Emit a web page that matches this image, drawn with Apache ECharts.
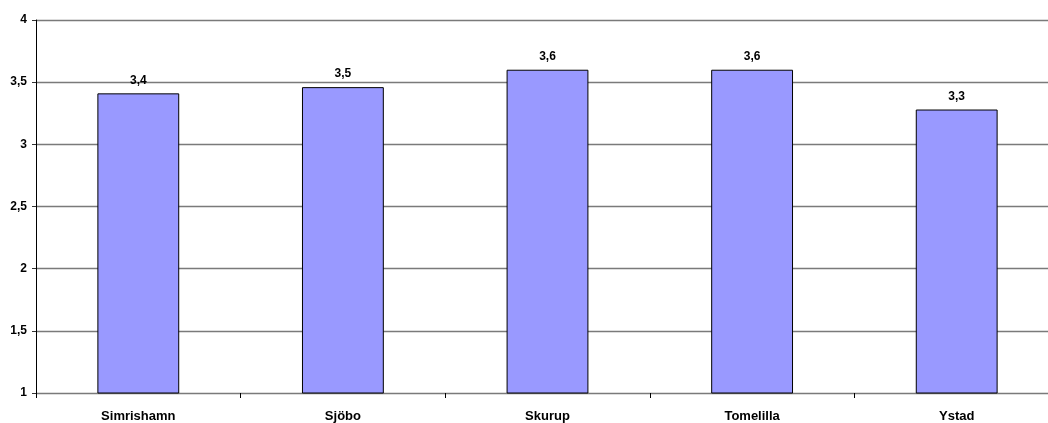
<!DOCTYPE html>
<html>
<head>
<meta charset="utf-8">
<script src="https://cdn.jsdelivr.net/npm/echarts@6/dist/echarts.min.js"></script>
<style>
  html, body { margin: 0; padding: 0; background: #fff; overflow: hidden; width: 1048px; height: 423px; }
  /* the plot area continues a little past the right edge of the window */
  #chart { width: 1059px; height: 423px; }
</style>
</head>
<body>
<div id="chart"></div>
<script>
// Municipalities and their average scores
const categories = ['Simrishamn', 'Sjöbo', 'Skurup', 'Tomelilla', 'Ystad'];
const values = [3.41, 3.46, 3.6, 3.6, 3.28];

// Value axis range
const yMin = 1;
const yMax = 4;
const yStep = 0.5;

const fmt = v => String(v).replace('.', ',');

const chart = echarts.init(document.getElementById('chart'), null, { renderer: 'canvas' });
chart.setOption({
  animation: false,
  backgroundColor: '#ffffff',
  textStyle: { fontFamily: 'Liberation Sans, Arial, sans-serif' },
  grid: { left: 36, top: 20, bottom: 30, right: 0, containLabel: false },
  xAxis: {
    type: 'category',
    data: categories,
    boundaryGap: true,
    axisLine: { lineStyle: { color: '#7a7a7a', width: 1 } },
    axisTick: { show: true, length: 5, lineStyle: { color: '#000' } },
    axisLabel: { color: '#000', fontWeight: 'bold', fontSize: 13, margin: 17 },
    splitLine: { show: false }
  },
  yAxis: {
    type: 'value',
    min: yMin,
    max: yMax,
    interval: yStep,
    axisLine: { show: true, lineStyle: { color: '#000', width: 1 } },
    axisTick: { show: true, length: 4, lineStyle: { color: '#333' } },
    axisLabel: {
      color: '#000', fontWeight: 'bold', fontSize: 12, margin: 9,
      formatter: v => fmt(v)
    },
    splitLine: { show: true, lineStyle: { color: '#7a7a7a', width: 1.3 } }
  },
  series: [{
    type: 'bar',
    data: values,
    barWidth: '40%',
    itemStyle: { color: '#9999ff', borderColor: '#000', borderWidth: 1 },
    label: {
      show: true,
      position: 'top',
      distance: 7,
      color: '#000',
      fontWeight: 'bold',
      fontSize: 12,
      formatter: p => fmt(p.value.toFixed(1))
    }
  }]
});
</script>
</body>
</html>
